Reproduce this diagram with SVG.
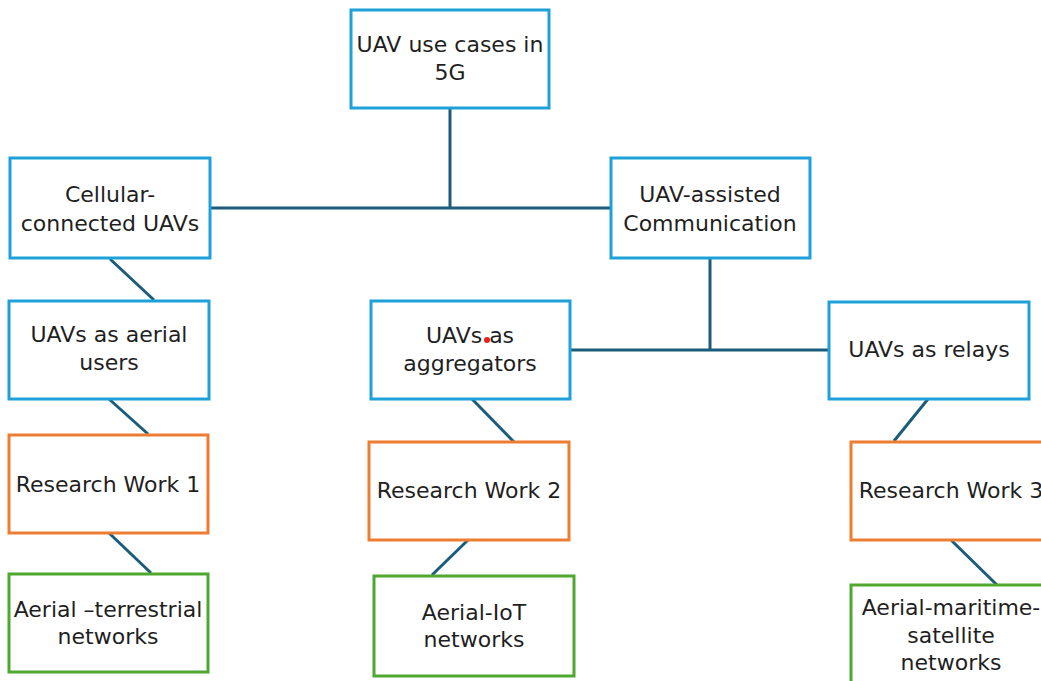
<svg xmlns="http://www.w3.org/2000/svg" width="1041" height="681" viewBox="0 0 1041 681">
<style>
.box{fill:#fff;stroke-width:3}
.b{stroke:#1ea0d9}
.o{stroke:#ed7d31}
.g{stroke:#4ea72e}
.t{font-family:"DejaVu Sans","Liberation Sans",sans-serif;font-size:22px;fill:#1f1f1f;text-anchor:middle}
.c line{stroke:#1b5c7a;stroke-width:3;stroke-linecap:butt}
</style>
<rect width="1041" height="681" fill="#fff"/>
<g class="c" id="connectors">
<line x1="450" y1="108" x2="450" y2="209"/>
<line x1="210" y1="208" x2="611" y2="208"/>
<line x1="710" y1="258" x2="710" y2="351"/>
<line x1="570" y1="350" x2="828" y2="350"/>
<line x1="110" y1="259" x2="154" y2="300"/>
<line x1="109" y1="399" x2="148" y2="434"/>
<line x1="109" y1="533" x2="151" y2="573"/>
<line x1="472" y1="399" x2="514" y2="442"/>
<line x1="468" y1="540" x2="432" y2="575"/>
<line x1="928" y1="399" x2="894" y2="441"/>
<line x1="951" y1="540" x2="997" y2="585"/>
</g>
<g id="n-root"><rect class="box b" x="351" y="10" width="198" height="98"/><text class="t" x="450" y="52">UAV use cases in</text><text class="t" x="450" y="80">5G</text></g>
<g id="n-cellular"><rect class="box b" x="10" y="158" width="200" height="100"/><text class="t" x="110" y="202">Cellular-</text><text class="t" x="110" y="231">connected UAVs</text></g>
<g id="n-assisted"><rect class="box b" x="611" y="158" width="199" height="100"/><text class="t" x="710" y="202">UAV-assisted</text><text class="t" x="710" y="231">Communication</text></g>
<g id="n-users"><rect class="box b" x="9" y="301" width="200" height="98"/><text class="t" x="109" y="342">UAVs as aerial</text><text class="t" x="109" y="370">users</text></g>
<g id="n-aggregators"><rect class="box b" x="371" y="301" width="199" height="98"/><text class="t" x="470" y="343">UAVs as</text><text class="t" x="470" y="371">aggregators</text><circle cx="487" cy="340" r="3" fill="#e8201c"/></g>
<g id="n-relays"><rect class="box b" x="829" y="302" width="200" height="97"/><text class="t" x="929" y="357">UAVs as relays</text></g>
<g id="n-rw1"><rect class="box o" x="9" y="435" width="199" height="98"/><text class="t" x="108" y="492">Research Work 1</text></g>
<g id="n-rw2"><rect class="box o" x="369" y="442" width="200" height="98"/><text class="t" x="469" y="498">Research Work 2</text></g>
<g id="n-rw3"><rect class="box o" x="851" y="442" width="200" height="98"/><text class="t" x="951" y="498">Research Work 3</text></g>
<g id="n-terrestrial"><rect class="box g" x="9" y="574" width="199" height="98"/><text class="t" x="108" y="617">Aerial –terrestrial</text><text class="t" x="108" y="644">networks</text></g>
<g id="n-iot"><rect class="box g" x="374" y="576" width="200" height="100"/><text class="t" x="474" y="620">Aerial-IoT</text><text class="t" x="474" y="647">networks</text></g>
<g id="n-maritime"><rect class="box g" x="851" y="585" width="200" height="110"/><text class="t" x="951" y="615">Aerial-maritime-</text><text class="t" x="951" y="643">satellite</text><text class="t" x="951" y="670">networks</text></g>
</svg>
